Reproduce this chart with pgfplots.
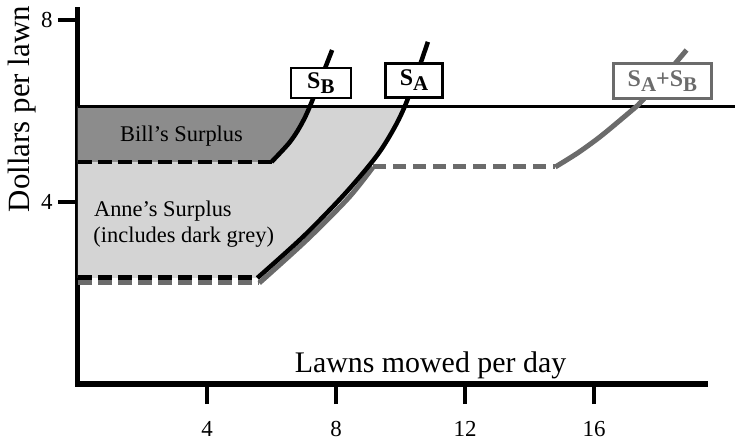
\documentclass[border=0pt]{standalone}
\usepackage{fontspec}
\setmainfont{Liberation Serif}
\usepackage{pgfplots}
\pgfplotsset{compat=1.18}

\definecolor{billfill}{gray}{0.55}
\definecolor{annefill}{gray}{0.83}
\definecolor{sumgrey}{gray}{0.42}

% supply curve tag: S with a lowered bold letter
\newcommand{\sub}[1]{\raisebox{-5bp}{\fontsize{21}{24}\selectfont\bfseries #1}}
\newcommand{\tagfont}{\fontsize{24}{28}\selectfont\bfseries}
\newcommand{\areafont}{\fontsize{22.5}{27}\selectfont}

\begin{document}
\begin{tikzpicture}
\begin{axis}[
    name=ax,
    x=32.25bp, y=45.5bp,
    xmin=0, xmax=19.45, ymin=0, ymax=8.23,
    enlargelimits=false,
    clip=false,
    axis x line=bottom, axis y line=left,
    axis line style={-, line width=5bp, line cap=rect},
    xtick={4,8,12,16}, ytick={4,8},
    xticklabels={4,8,12,16}, yticklabels={4,8},
    tick align=outside,
    major tick length=20bp,
    tick style={line width=4bp, black},
    xticklabel style={font=\fontsize{23}{27}\selectfont, yshift=-14bp},
    yticklabel style={font=\fontsize{23}{27}\selectfont, anchor=east, xshift=-2bp},
    xlabel={Lawns mowed per day},
    ylabel={Dollars per lawn},
    label style={font=\fontsize{30}{36}\selectfont},
    ylabel style={font=\fontsize{31}{37}\selectfont},
    xlabel style={at={(axis description cs:0.562,0.030)}, anchor=base},
    ylabel style={at={(axis description cs:-0.0893,0.734)}, anchor=center},
]

% Anne's surplus (light grey), then Bill's (dark grey) on top
\addplot[fill=annefill, draw=none] coordinates {
    (0,6.1) (0,2.33) (5.56,2.33) (7.0,3.25) (8.3,4.2)
    (9.3,5.05) (9.9,5.75) (10.12,6.1)
};
\addplot[fill=billfill, draw=none] coordinates {
    (0,6.1) (0,4.88) (6.0,4.88) (6.55,5.3) (6.88,5.65) (7.17,6.1)
};

% price line
\addplot[black, line width=2.5bp] coordinates {(0,6.1) (20.37,6.1)};

% market supply S_A+S_B (grey, drawn under the black curves)
\addplot[sumgrey, line width=5bp, dash pattern=on 14bp off 6bp] coordinates {(0,2.22) (5.62,2.22)};
\addplot[sumgrey, line width=5bp, line join=round, smooth] coordinates {
    (5.62,2.22) (7.1,3.17) (8.4,4.1) (9.15,4.77)
};
\addplot[sumgrey, line width=5bp, dash pattern=on 13bp off 7bp] coordinates {(9.15,4.77) (14.8,4.77)};
\addplot[sumgrey, line width=5bp, smooth] coordinates {
    (14.8,4.77) (15.5,5.08) (16.2,5.44) (17.0,5.91) (17.35,6.12)
    (18.1,6.7) (18.87,7.34)
};

% Anne's supply S_A
\addplot[black, line width=5bp, dash pattern=on 14bp off 6bp] coordinates {(0,2.35) (5.56,2.35)};
\addplot[black, line width=4.5bp, smooth] coordinates {
    (5.56,2.33) (7.0,3.25) (8.3,4.2) (9.3,5.05) (9.9,5.75)
    (10.3,6.4) (10.85,7.52)
};

% Bill's supply S_B
\addplot[black, line width=4.5bp, dash pattern=on 14bp off 6bp] coordinates {(0,4.88) (6.0,4.88)};
\addplot[black, line width=4.5bp, smooth] coordinates {
    (6.0,4.88) (6.55,5.3) (6.88,5.65) (7.19,6.1) (7.88,7.34)
};

% area labels
\node[anchor=base west, font=\areafont] at (axis cs:1.2,5.33) {Bill’s Surplus};
\node[anchor=base west, font=\areafont] at (axis cs:0.39,3.68) {Anne’s Surplus};
\node[anchor=base west, font=\areafont] at (axis cs:0.37,3.10) {(includes dark grey)};

% curve tags
\node[draw=black, fill=white, line width=2.5bp, inner sep=0pt,
      minimum width=60bp, minimum height=30bp] at (axis cs:7.53,6.62)
      {\tagfont S\sub{B}};
\node[draw=black, fill=white, line width=2.5bp, inner sep=0pt,
      minimum width=57bp, minimum height=34bp] at (axis cs:10.42,6.67)
      {\tagfont S\sub{A}};
\node[draw=sumgrey, fill=white, line width=2.5bp, inner sep=0pt, text=sumgrey,
      minimum width=98bp, minimum height=35bp] at (axis cs:18.12,6.66)
      {\tagfont S\sub{A}+S\sub{B}};
\end{axis}
\pgfresetboundingbox
\path[use as bounding box] (ax.south west) ++(-78bp,-63bp) rectangle ++(735bp,447bp);
\end{tikzpicture}
\end{document}
